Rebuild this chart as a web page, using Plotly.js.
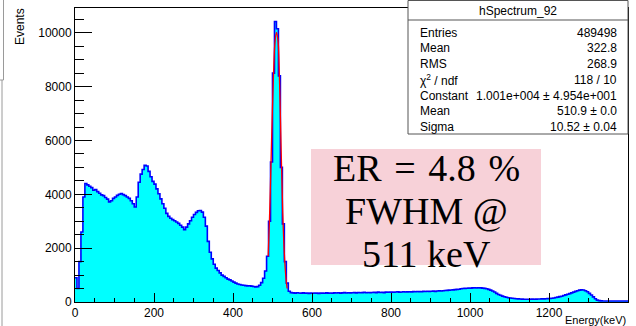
<!DOCTYPE html>
<html>
<head>
<meta charset="utf-8">
<script src="https://cdn.plot.ly/plotly-3.0.1.min.js"></script>
<style>
html,body{margin:0;padding:0;background:#fff;}
#chart{width:636px;height:326px;}
</style>
</head>
<body>
<div id="chart"></div>
<script>
// ---------------- DATA ----------------
const binWidth = 5;      // keV per bin, 0..1400 keV
const counts = [
  // 0-50
  900, 500, 1500, 2600, 3900, 4400, 4350, 4300, 4250, 4150,
  // 50-100
  4180, 4100, 4040, 3980, 3950, 3880, 3820, 3720, 3760, 3850,
  // 100-150
  3900, 3960, 4000, 4030, 3990, 3950, 3900, 3850, 3760, 3650,
  // 150-200
  3530, 3900, 4450, 4750, 4920, 5080, 5050, 4850, 4650, 4480,
  // 200-250
  4380, 4200, 4020, 3830, 3650, 3480, 3290, 3180, 3110, 3060,
  // 250-300
  3020, 2970, 2920, 2850, 2780, 2690, 2780, 2900, 3020, 3150,
  // 300-350
  3250, 3330, 3390, 3400, 3340, 3150, 2820, 2250, 1850, 1600,
  // 350-400
  1400, 1260, 1170, 1080, 1000, 950, 900, 850, 820, 780,
  // 400-450
  740, 700, 670, 650, 630, 620, 610, 600, 605, 590,
  // 450-500
  575, 560, 570, 620, 720, 880, 1150, 1700, 3000, 5200,
  // 500-550
  8500, 10420, 10150, 8400, 5000, 2900, 1500, 700, 400, 350,
  // 550-600
  340, 330, 345, 335, 325, 340, 330, 335, 320, 330,
  // 600-650
  325, 335, 330, 320, 335, 330, 325, 340, 330, 335,
  // 650-700
  330, 340, 335, 345, 330, 340, 350, 335, 345, 340,
  // 700-750
  345, 350, 340, 355, 345, 350, 360, 345, 355, 350,
  // 750-800
  355, 360, 350, 365, 355, 360, 350, 365, 360, 370,
  // 800-850
  365, 360, 370, 375, 365, 370, 380, 370, 375, 380,
  // 850-900
  375, 385, 380, 390, 385, 380, 395, 390, 400, 395,
  // 900-950
  400, 405, 395, 410, 415, 410, 420, 425, 430, 440,
  // 950-1000
  445, 450, 460, 470, 475, 490, 500, 505, 510, 520,
  // 1000-1050
  515, 525, 530, 520, 530, 525, 515, 505, 490, 470,
  // 1050-1100
  440, 410, 370, 320, 280, 250, 220, 195, 175, 160,
  // 1100-1150
  150, 140, 130, 120, 115, 110, 105, 100, 100, 100,
  // 1150-1200
  100, 105, 100, 105, 110, 110, 115, 115, 120, 125,
  // 1200-1250
  130, 140, 150, 165, 180, 200, 215, 240, 265, 290,
  // 1250-1300
  310, 340, 365, 395, 420, 440, 450, 445, 420, 380,
  // 1300-1350
  320, 260, 190, 120, 70, 50, 40, 38, 36, 38,
  // 1350-1400
  36, 37, 35, 38, 36, 35, 37, 36, 35, 36
];

// Gaussian fit curve (red line)
const fitEnergy = [489, 492, 495, 498, 502, 506, 510, 514, 518, 522, 526, 530, 534, 537];
const fitValue  = [1700, 2900, 4500, 6200, 8200, 9600, 10010, 9700, 8100, 5600, 3300, 1800, 900, 500];

const statsTitle = "hSpectrum_92";
const statsLabels = ["Entries", "Mean", "RMS", "\u03C7<sup>2</sup> / ndf", "Constant", "Mean", "Sigma"];
const statsValues = ["489498", "322.8", "268.9", "118 / 10", "1.001e+004 \u00B1 4.954e+001", "510.9 \u00B1 0.0", "10.52 \u00B1 0.04"];
const noteLines = ["ER\u2004=\u20044.8\u2004%", "FWHM @", "511 keV"];

const xTitle = "Energy(keV)";
const yTitle = "Events";

// ---------------- BUILD ----------------
const edges = [];
for (let i = 0; i <= counts.length; i++) edges.push(i * binWidth);
const stepY = counts.concat([counts[counts.length - 1]]);

const W = 636, H = 326;
const M = {l: 75, r: 8, t: 8, b: 24};
const PW = W - M.l - M.r, PH = H - M.t - M.b;
const px2x = px => (px - M.l) / PW;
const px2y = py => 1 - (py - M.t) / PH;

const sans = "Liberation Sans, Arial, Helvetica, sans-serif";
const serif = "Liberation Serif, Times New Roman, serif";

const traces = [
  {
    type: "scatter", mode: "lines",
    x: edges, y: stepY,
    line: {shape: "hv", color: "#0000ff", width: 1.6},
    fill: "tozeroy", fillcolor: "#00ffff",
    hoverinfo: "skip", showlegend: false
  },
  {
    type: "scatter", mode: "lines",
    x: fitEnergy, y: fitValue,
    line: {shape: "spline", color: "#ff0000", width: 1.3},
    hoverinfo: "skip", showlegend: false
  }
];

const shapes = [];
const annotations = [];

// stats box
const bx0 = px2x(408), bx1 = px2x(628);
shapes.push({type: "rect", xref: "paper", yref: "paper", x0: bx0, x1: bx1, y0: px2y(134), y1: px2y(0.5),
  fillcolor: "#ffffff", line: {color: "#555555", width: 1}, layer: "above"});
shapes.push({type: "line", xref: "paper", yref: "paper", x0: bx0, x1: bx1, y0: px2y(20), y1: px2y(20),
  line: {color: "#555555", width: 1}, layer: "above"});
annotations.push({xref: "paper", yref: "paper", x: px2x(518), y: px2y(11), text: statsTitle,
  showarrow: false, xanchor: "center", yanchor: "middle", font: {family: sans, size: 12, color: "#000"}});
const rowY = [32.5, 48.5, 64, 79.5, 95.5, 111, 126.5];
statsLabels.forEach((t, i) => {
  annotations.push({xref: "paper", yref: "paper", x: px2x(418), y: px2y(rowY[i]), text: t,
    showarrow: false, xanchor: "left", yanchor: "middle", font: {family: sans, size: 12, color: "#000"}});
  annotations.push({xref: "paper", yref: "paper", x: px2x(619), y: px2y(rowY[i]), text: statsValues[i],
    showarrow: false, xanchor: "right", yanchor: "middle", font: {family: sans, size: 12, color: "#000"}});
});

// pink note box
shapes.push({type: "rect", xref: "paper", yref: "paper", x0: px2x(311), x1: px2x(541), y0: px2y(265), y1: px2y(149),
  fillcolor: "#f7d1d8", line: {width: 0}, layer: "above"});
const noteY = [166, 209, 252];
noteLines.forEach((t, i) => {
  annotations.push({xref: "paper", yref: "paper", x: px2x(426), y: px2y(noteY[i] + 2), text: t,
    showarrow: false, xanchor: "center", yanchor: "middle", font: {family: serif, size: 38, color: "#000"}});
});

// axis titles (ROOT style, aligned to the axis ends)
annotations.push({xref: "paper", yref: "paper", x: px2x(628), y: px2y(320), text: xTitle,
  showarrow: false, xanchor: "right", yanchor: "middle", font: {family: sans, size: 11, color: "#000"}});
annotations.push({xref: "paper", yref: "paper", x: px2x(20), y: px2y(27), text: yTitle, textangle: -90,
  showarrow: false, xanchor: "center", yanchor: "middle", font: {family: sans, size: 12, color: "#000"}});

// partial window edge at the far left
const edgeLine = {color: "#9a9a9a", width: 1};
shapes.push({type: "line", xref: "paper", yref: "paper", x0: px2x(3.5), x1: px2x(3.5), y0: px2y(0), y1: px2y(80), line: edgeLine});
shapes.push({type: "line", xref: "paper", yref: "paper", x0: px2x(0), x1: px2x(3.5), y0: px2y(80), y1: px2y(80), line: edgeLine});
shapes.push({type: "line", xref: "paper", yref: "paper", x0: px2x(2), x1: px2x(2), y0: px2y(80), y1: px2y(326), line: edgeLine});

const layout = {
  width: W, height: H,
  margin: M,
  paper_bgcolor: "#ffffff", plot_bgcolor: "#ffffff",
  showlegend: false,
  xaxis: {
    range: [0, 1400], dtick: 200, tick0: 0, tickformat: "d",
    ticks: "inside", ticklen: 9, tickwidth: 1, tickcolor: "#000",
    minor: {dtick: 50, ticks: "inside", ticklen: 4.5, tickcolor: "#000", tickwidth: 1, showgrid: false},
    showline: true, mirror: true, linecolor: "#000", linewidth: 1,
    showgrid: false, zeroline: false,
    tickfont: {family: sans, size: 12, color: "#000"}
  },
  yaxis: {
    range: [0, 10920], dtick: 2000, tick0: 0, tickformat: "d",
    ticks: "inside", ticklen: 17, tickwidth: 1, tickcolor: "#000",
    minor: {dtick: 500, ticks: "inside", ticklen: 8.5, tickcolor: "#000", tickwidth: 1, showgrid: false},
    showline: true, mirror: true, linecolor: "#000", linewidth: 1,
    showgrid: false, zeroline: false,
    tickfont: {family: sans, size: 12, color: "#000"}
  },
  shapes: shapes,
  annotations: annotations
};

Plotly.newPlot("chart", traces, layout, {staticPlot: true, displayModeBar: false});
</script>
</body>
</html>
